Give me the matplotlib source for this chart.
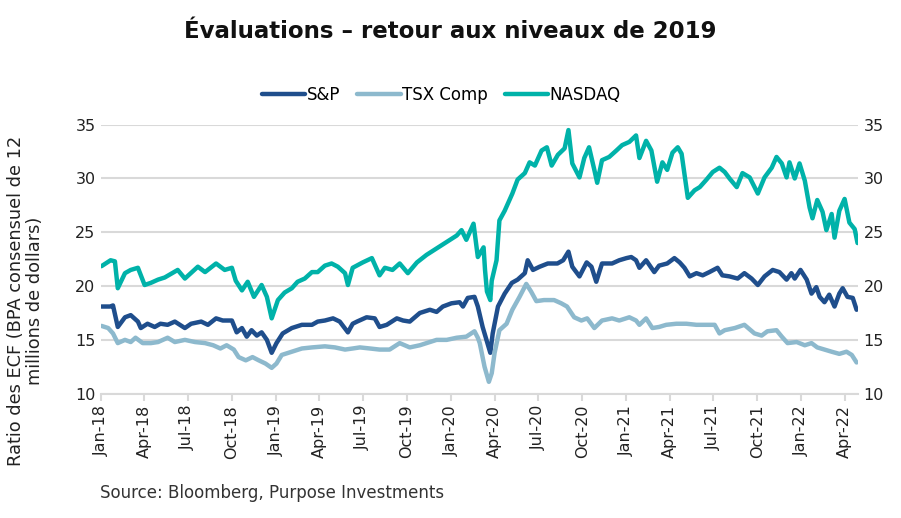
import matplotlib
matplotlib.use("Agg")
import matplotlib.pyplot as plt
import matplotlib.dates as mdates
import pandas as pd

plt.rcParams['font.family'] = ['DejaVu Sans']

# S&P 500 - ratio cours / BPA consensuel 12 mois
sp_dates = ['2018-01-02', '2018-01-20', '2018-01-26', '2018-02-05', '2018-02-20', '2018-03-04',
            '2018-03-19', '2018-03-25', '2018-04-08', '2018-04-23', '2018-05-05', '2018-05-20',
            '2018-06-04', '2018-06-25', '2018-07-08', '2018-07-29', '2018-08-12', '2018-08-29',
            '2018-09-12', '2018-10-01', '2018-10-11', '2018-10-22', '2018-11-01', '2018-11-11',
            '2018-11-22', '2018-12-02', '2018-12-13', '2018-12-23', '2019-01-02', '2019-01-15',
            '2019-02-03', '2019-02-24', '2019-03-17', '2019-03-29', '2019-04-13', '2019-04-30',
            '2019-05-14', '2019-05-31', '2019-06-10', '2019-06-19', '2019-07-09', '2019-07-26',
            '2019-08-05', '2019-08-20', '2019-09-10', '2019-09-23', '2019-10-07', '2019-10-28',
            '2019-11-18', '2019-12-02', '2019-12-15', '2020-01-02', '2020-01-19', '2020-01-26',
            '2020-02-05', '2020-02-19', '2020-02-26', '2020-03-07', '2020-03-23', '2020-03-28',
            '2020-04-08', '2020-04-22', '2020-05-07', '2020-05-19', '2020-06-03', '2020-06-09',
            '2020-06-20', '2020-07-04', '2020-07-21', '2020-08-10', '2020-08-22', '2020-09-02',
            '2020-09-10', '2020-09-25', '2020-10-10', '2020-10-20', '2020-10-30', '2020-11-11',
            '2020-12-02', '2020-12-17', '2021-01-01', '2021-01-11', '2021-01-21', '2021-01-28',
            '2021-02-11', '2021-02-28', '2021-03-10', '2021-03-27', '2021-04-11', '2021-04-22',
            '2021-05-02', '2021-05-13', '2021-05-27', '2021-06-09', '2021-06-23', '2021-07-10',
            '2021-07-20', '2021-08-04', '2021-08-21', '2021-09-04', '2021-09-19', '2021-10-02',
            '2021-10-16', '2021-11-02', '2021-11-16', '2021-12-01', '2021-12-11', '2021-12-18',
            '2021-12-30', '2022-01-12', '2022-01-22', '2022-02-01', '2022-02-08', '2022-02-18',
            '2022-02-28', '2022-03-11', '2022-03-21', '2022-03-28', '2022-04-07', '2022-04-18',
            '2022-04-26']
sp_values = [18.1, 18.1, 18.2, 16.2, 17.1, 17.3,
             16.7, 16.1, 16.5, 16.2, 16.5, 16.4,
             16.7, 16.1, 16.5, 16.7, 16.4, 17.0,
             16.8, 16.8, 15.7, 16.1, 15.3, 15.9,
             15.4, 15.7, 15.0, 13.8, 14.7, 15.6,
             16.1, 16.4, 16.4, 16.7, 16.8, 17.0,
             16.7, 15.7, 16.5, 16.7, 17.1, 17.0,
             16.2, 16.4, 17.0, 16.8, 16.7, 17.5,
             17.8, 17.6, 18.1, 18.4, 18.5, 18.1,
             18.9, 19.0, 18.1, 16.2, 13.8, 15.6,
             18.1, 19.3, 20.3, 20.6, 21.2, 22.4,
             21.5, 21.8, 22.1, 22.1, 22.4, 23.2,
             21.8, 20.9, 22.2, 21.8, 20.4, 22.1,
             22.1, 22.4, 22.6, 22.7, 22.4, 21.7,
             22.4, 21.3, 21.9, 22.1, 22.6, 22.2,
             21.7, 20.9, 21.2, 21.0, 21.3, 21.7,
             21.0, 20.9, 20.7, 21.2, 20.7, 20.1,
             20.9, 21.5, 21.3, 20.6, 21.2, 20.7,
             21.5, 20.6, 19.3, 19.9, 19.0, 18.5,
             19.2, 18.1, 19.3, 19.8, 19.0, 18.9,
             17.8]

# TSX composé
tsx_dates = ['2018-01-02', '2018-01-16', '2018-01-26', '2018-02-05', '2018-02-20', '2018-03-04',
             '2018-03-14', '2018-03-29', '2018-04-15', '2018-04-30', '2018-05-20', '2018-06-04',
             '2018-06-25', '2018-07-16', '2018-08-06', '2018-08-23', '2018-09-07', '2018-09-20',
             '2018-10-05', '2018-10-15', '2018-10-30', '2018-11-13', '2018-11-26', '2018-12-10',
             '2018-12-23', '2019-01-02', '2019-01-13', '2019-02-03', '2019-02-24', '2019-03-17',
             '2019-04-13', '2019-05-04', '2019-05-25', '2019-06-10', '2019-06-25', '2019-07-16',
             '2019-08-05', '2019-08-26', '2019-09-16', '2019-10-07', '2019-10-28', '2019-11-18',
             '2019-12-02', '2019-12-23', '2020-01-13', '2020-02-02', '2020-02-19', '2020-02-26',
             '2020-03-01', '2020-03-11', '2020-03-20', '2020-03-26', '2020-04-01', '2020-04-11',
             '2020-04-26', '2020-05-08', '2020-05-23', '2020-06-06', '2020-06-16', '2020-06-27',
             '2020-07-13', '2020-08-03', '2020-08-18', '2020-08-30', '2020-09-14', '2020-09-29',
             '2020-10-11', '2020-10-26', '2020-11-11', '2020-12-02', '2020-12-17', '2021-01-07',
             '2021-01-21', '2021-01-28', '2021-02-11', '2021-02-24', '2021-03-10', '2021-03-25',
             '2021-04-15', '2021-05-06', '2021-05-27', '2021-06-17', '2021-07-04', '2021-07-14',
             '2021-07-25', '2021-08-15', '2021-09-04', '2021-09-25', '2021-10-10', '2021-10-22',
             '2021-11-10', '2021-11-21', '2021-12-03', '2021-12-22', '2022-01-08', '2022-01-22',
             '2022-02-03', '2022-02-18', '2022-03-05', '2022-03-21', '2022-04-05', '2022-04-16',
             '2022-04-26']
tsx_values = [16.3, 16.1, 15.6, 14.7, 15.0, 14.8,
              15.2, 14.7, 14.7, 14.8, 15.2, 14.8,
              15.0, 14.8, 14.7, 14.5, 14.2, 14.5,
              14.1, 13.4, 13.1, 13.4, 13.1, 12.8,
              12.4, 12.8, 13.6, 13.9, 14.2, 14.3,
              14.4, 14.3, 14.1, 14.2, 14.3, 14.2,
              14.1, 14.1, 14.7, 14.3, 14.5, 14.8,
              15.0, 15.0, 15.2, 15.3, 15.8, 15.2,
              14.7, 12.5, 11.1, 11.9, 13.8, 15.9,
              16.5, 17.8, 19.0, 20.2, 19.5, 18.6,
              18.7, 18.7, 18.4, 18.1, 17.1, 16.8,
              17.0, 16.1, 16.8, 17.0, 16.8, 17.1,
              16.8, 16.4, 17.0, 16.1, 16.2, 16.4,
              16.5, 16.5, 16.4, 16.4, 16.4, 15.6,
              15.9, 16.1, 16.4, 15.6, 15.4, 15.8,
              15.9, 15.3, 14.7, 14.8, 14.5, 14.7,
              14.3, 14.1, 13.9, 13.7, 13.9, 13.6,
              12.9]

# NASDAQ
nq_dates = ['2018-01-02', '2018-01-21', '2018-01-30', '2018-02-05', '2018-02-20', '2018-03-04',
            '2018-03-19', '2018-04-02', '2018-04-15', '2018-04-30', '2018-05-14', '2018-06-10',
            '2018-06-25', '2018-07-22', '2018-08-06', '2018-08-29', '2018-09-16', '2018-10-01',
            '2018-10-09', '2018-10-22', '2018-11-03', '2018-11-16', '2018-12-02', '2018-12-13',
            '2018-12-23', '2019-01-05', '2019-01-19', '2019-02-03', '2019-02-15', '2019-03-02',
            '2019-03-17', '2019-03-29', '2019-04-13', '2019-04-27', '2019-05-10', '2019-05-25',
            '2019-05-31', '2019-06-10', '2019-07-01', '2019-07-20', '2019-08-05', '2019-08-16',
            '2019-09-01', '2019-09-16', '2019-10-03', '2019-10-22', '2019-11-11', '2019-12-02',
            '2019-12-23', '2020-01-13', '2020-01-23', '2020-02-02', '2020-02-17', '2020-02-26',
            '2020-03-09', '2020-03-12', '2020-03-16', '2020-03-23', '2020-03-26', '2020-04-05',
            '2020-04-11', '2020-04-22', '2020-05-02', '2020-05-08', '2020-05-19', '2020-06-03',
            '2020-06-13', '2020-06-24', '2020-07-08', '2020-07-19', '2020-07-29', '2020-08-11',
            '2020-08-25', '2020-09-02', '2020-09-10', '2020-09-25', '2020-10-05', '2020-10-15',
            '2020-10-26', '2020-11-01', '2020-11-11', '2020-11-26', '2020-12-11', '2020-12-23',
            '2021-01-07', '2021-01-21', '2021-01-28', '2021-02-11', '2021-02-22', '2021-03-06',
            '2021-03-17', '2021-03-27', '2021-04-07', '2021-04-18', '2021-04-26', '2021-05-09',
            '2021-05-23', '2021-06-03', '2021-06-17', '2021-06-30', '2021-07-14', '2021-07-25',
            '2021-08-04', '2021-08-19', '2021-08-31', '2021-09-15', '2021-10-02', '2021-10-16',
            '2021-10-31', '2021-11-10', '2021-11-21', '2021-12-01', '2021-12-07', '2021-12-18',
            '2021-12-28', '2022-01-08', '2022-01-18', '2022-01-24', '2022-02-03', '2022-02-14',
            '2022-02-22', '2022-03-05', '2022-03-11', '2022-03-21', '2022-04-01', '2022-04-11',
            '2022-04-22', '2022-04-28']
nq_values = [21.85, 22.4, 22.3, 19.8, 21.2, 21.5,
             21.7, 20.1, 20.3, 20.6, 20.8, 21.5,
             20.7, 21.8, 21.3, 22.1, 21.5, 21.7,
             20.5, 19.6, 20.4, 19.0, 20.1, 19.0,
             17.0, 18.7, 19.4, 19.8, 20.4, 20.7,
             21.3, 21.3, 21.9, 22.1, 21.8, 21.2,
             20.1, 21.7, 22.2, 22.6, 21.0, 21.7,
             21.5, 22.1, 21.2, 22.2, 22.9, 23.5,
             24.1, 24.7, 25.2, 24.3, 25.8, 22.7,
             23.6, 21.5, 19.5, 18.7, 20.5, 22.4,
             26.1, 27.0, 28.0, 28.6, 29.9, 30.5,
             31.5, 31.2, 32.6, 32.9, 31.2, 32.2,
             32.8, 34.5, 31.4, 30.1, 31.9, 32.9,
             30.8, 29.6, 31.7, 32.0, 32.6, 33.1,
             33.4, 34.0, 31.9, 33.5, 32.6, 29.7,
             31.5, 30.8, 32.4, 32.9, 32.3, 28.2,
             28.9, 29.2, 29.9, 30.6, 31.0, 30.6,
             30.0, 29.2, 30.5, 30.1, 28.6, 30.1,
             31.0, 32.0, 31.4, 30.1, 31.5, 30.0,
             31.4, 29.8, 27.3, 26.3, 28.0, 26.9,
             25.2, 26.7, 24.5, 27.0, 28.1, 25.9,
             25.3, 24.0]

series = [
    ('S&P', sp_dates, sp_values, '#1f4e8c'),
    ('TSX Comp', tsx_dates, tsx_values, '#8db9cd'),
    ('NASDAQ', nq_dates, nq_values, '#00b2a9'),
]

fig = plt.figure(figsize=(9.01, 5.18), dpi=100)
ax = fig.add_axes([0.1121, 0.2400, 0.8402, 0.5193])

for nom, dates, valeurs, couleur in series:
    ax.plot(pd.to_datetime(dates), valeurs, color=couleur, lw=3.2, label=nom,
            solid_joinstyle='round', solid_capstyle='round')

ax.set_ylim(10, 35)
ax.set_yticks([10, 15, 20, 25, 30, 35])
ax.set_xlim(pd.Timestamp('2018-01-01'), pd.Timestamp('2022-04-29'))
ax.xaxis.set_major_locator(mdates.MonthLocator(bymonth=[1, 4, 7, 10]))
ax.xaxis.set_major_formatter(mdates.DateFormatter('%b-%y'))
plt.setp(ax.get_xticklabels(), rotation=90)

ax.grid(axis='y', color='#d9d9d9', lw=1.5)
ax.set_axisbelow(True)
for s in ['top', 'right', 'left']:
    ax.spines[s].set_visible(False)
ax.spines['bottom'].set_color('#d9d9d9')
ax.spines['bottom'].set_linewidth(1.5)
ax.tick_params(axis='x', colors='#d9d9d9', length=5, width=1.5, labelcolor='#222222',
               labelsize=11.5, pad=3)
ax.tick_params(axis='y', length=0, labelcolor='#222222', labelsize=11.5, pad=4,
               labelright=True)

fig.text(0.5, 0.94, 'Évaluations – retour aux niveaux de 2019', ha='center', va='center',
         fontsize=16.5, fontweight='bold', color='#111111')
fig.legend(loc='center', bbox_to_anchor=(0.49, 0.817), ncol=3, frameon=False,
           fontsize=12, handlelength=2.6, handletextpad=0.1, columnspacing=1.0)
fig.text(0.028, 0.42, 'Ratio des ECF (BPA consensuel de 12\nmillions de dollars)',
         rotation=90, ha='center', va='center', fontsize=12.8, color='#222222',
         multialignment='center', linespacing=1.05)
fig.text(0.111, 0.048, 'Source: Bloomberg, Purpose Investments', ha='left', va='center',
         fontsize=12, color='#333333')

fig.savefig('out.png', dpi=100)
